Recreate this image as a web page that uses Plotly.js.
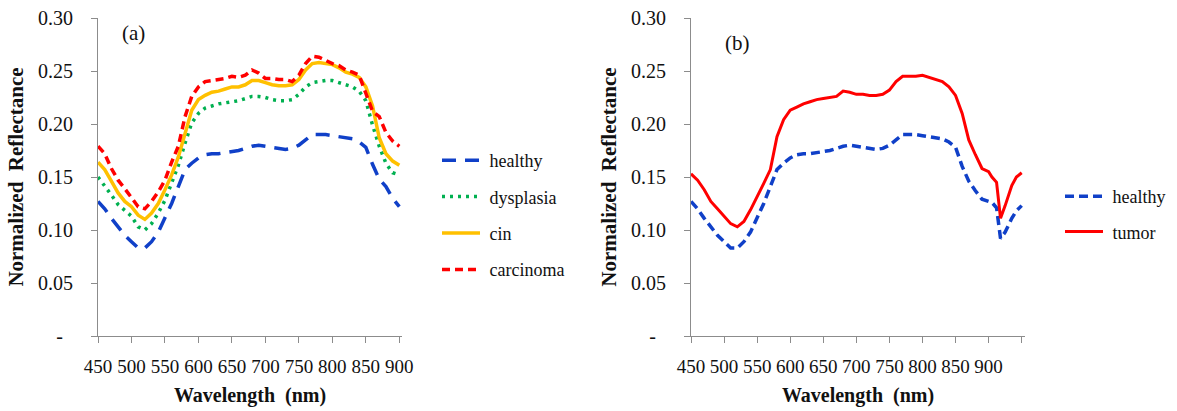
<!DOCTYPE html>
<html>
<head>
<meta charset="utf-8">
<script src="https://cdn.plot.ly/plotly-3.0.1.min.js"></script>
<style>
html,body{margin:0;padding:0;background:#fff;}
#chart{width:1177px;height:411px;}
</style>
</head>
<body>
<div id="chart"></div>
<script>
// ---- Data ----
var wlA = [450,460,470,480,490,500,510,520,530,540,550,560,570,580,590,600,610,620,630,640,650,660,670,680,690,700,710,720,730,740,750,760,770,780,790,800,810,820,830,840,850,860,870,880,890,900];
var healthyA = [0.127,0.120,0.111,0.103,0.095,0.089,0.083,0.083,0.089,0.098,0.111,0.125,0.141,0.157,0.163,0.168,0.171,0.172,0.172,0.173,0.174,0.175,0.177,0.179,0.180,0.179,0.178,0.177,0.176,0.177,0.180,0.185,0.190,0.190,0.190,0.189,0.188,0.187,0.186,0.183,0.178,0.162,0.148,0.141,0.130,0.122];
var dysplasiaA = [0.150,0.142,0.133,0.124,0.119,0.113,0.103,0.100,0.106,0.116,0.128,0.144,0.161,0.182,0.201,0.210,0.215,0.217,0.219,0.220,0.221,0.222,0.224,0.226,0.226,0.225,0.223,0.222,0.222,0.223,0.228,0.235,0.239,0.240,0.241,0.241,0.239,0.237,0.235,0.231,0.222,0.199,0.179,0.163,0.154,0.152];
var cinA = [0.164,0.157,0.146,0.135,0.127,0.122,0.114,0.110,0.116,0.125,0.138,0.152,0.169,0.191,0.213,0.223,0.227,0.230,0.231,0.233,0.235,0.235,0.237,0.241,0.241,0.239,0.237,0.236,0.236,0.237,0.242,0.251,0.257,0.258,0.257,0.256,0.253,0.249,0.247,0.244,0.235,0.217,0.187,0.172,0.165,0.161];
var carcinomaA = [0.179,0.172,0.158,0.147,0.139,0.131,0.122,0.120,0.127,0.136,0.147,0.164,0.179,0.207,0.226,0.235,0.240,0.241,0.242,0.243,0.245,0.244,0.246,0.251,0.248,0.243,0.243,0.242,0.242,0.240,0.246,0.257,0.264,0.263,0.260,0.257,0.255,0.251,0.249,0.246,0.229,0.212,0.207,0.192,0.184,0.179];

var wlB = [450,460,470,480,490,500,510,520,530,540,550,560,570,580,590,600,610,620,630,640,650,660,670,680,690,700,710,720,730,740,750,760,770,780,790,800,810,820,830,840,850,860,870,880,890,900,905,912,915,918,925,935,942,950];
var healthyB = [0.127,0.120,0.111,0.103,0.095,0.089,0.083,0.083,0.089,0.098,0.111,0.125,0.141,0.157,0.163,0.168,0.171,0.172,0.172,0.173,0.174,0.175,0.177,0.179,0.180,0.179,0.178,0.177,0.176,0.177,0.180,0.185,0.190,0.190,0.190,0.189,0.188,0.187,0.186,0.183,0.178,0.160,0.146,0.137,0.129,0.127,0.126,0.121,0.106,0.092,0.098,0.111,0.118,0.123];
var tumorB = [0.153,0.147,0.138,0.127,0.120,0.113,0.106,0.103,0.108,0.119,0.131,0.144,0.157,0.188,0.204,0.213,0.216,0.219,0.221,0.223,0.224,0.225,0.226,0.231,0.230,0.228,0.228,0.227,0.227,0.228,0.232,0.240,0.245,0.245,0.245,0.246,0.244,0.242,0.240,0.235,0.227,0.210,0.185,0.171,0.158,0.155,0.150,0.145,0.128,0.111,0.123,0.142,0.150,0.154];

var yTickVals = [0,0.05,0.10,0.15,0.20,0.25,0.30];
var yTickText = ['-\u00a0\u00a0','0.05','0.10','0.15','0.20','0.25','0.30'];
var xTickValsA = [450,500,550,600,650,700,750,800,850,900];
var xTickTextA = ['450','500','550','600','650','700','750','800','850','900'];
var xTickValsB = [450,500,550,600,650,700,750,800,850,900,950];
var xTickTextB = ['450','500','550','600','650','700','750','800','850','900',''];

// ---- Styles ----
var FONT = 'Liberation Serif, Times New Roman, Times, serif';
var BLUE = '#1040c8', GREEN = '#00b050', GOLD = '#ffc000', RED = '#ff0000';

var traces = [
  {x: wlA, y: healthyA, name: '\u00a0healthy', xaxis: 'x', yaxis: 'y', legend: 'legend', legendgroup: 'a1',
   mode: 'lines', line: {color: BLUE, width: 3.5, dash: '14px,9px'}},
  {x: wlA, y: dysplasiaA, name: '\u00a0dysplasia', xaxis: 'x', yaxis: 'y', legend: 'legend', legendgroup: 'a2',
   mode: 'lines', line: {color: GREEN, width: 3.5, dash: '3px,5px'}},
  {x: wlA, y: cinA, name: '\u00a0cin', xaxis: 'x', yaxis: 'y', legend: 'legend', legendgroup: 'a3',
   mode: 'lines', line: {color: GOLD, width: 3.5}},
  {x: wlA, y: carcinomaA, name: '\u00a0carcinoma', xaxis: 'x', yaxis: 'y', legend: 'legend', legendgroup: 'a4',
   mode: 'lines', line: {color: RED, width: 3.5, dash: '8px,5px'}},
  {x: wlB, y: healthyB, name: '\u00a0healthy', xaxis: 'x2', yaxis: 'y2', legend: 'legend2', legendgroup: 'b1',
   mode: 'lines', line: {color: BLUE, width: 3.5, dash: '9px,5px'}},
  {x: wlB, y: tumorB, name: '\u00a0tumor', xaxis: 'x2', yaxis: 'y2', legend: 'legend2', legendgroup: 'b2',
   mode: 'lines', line: {color: RED, width: 3}}
];

function yax(anchor) {
  return {
    anchor: anchor, domain: [1 - 336/411, 1 - 18/411], range: [0, 0.30],
    tickmode: 'array', tickvals: yTickVals, ticktext: yTickText,
    ticks: 'outside', ticklen: 6, tickcolor: '#8c8c8c', tickwidth: 1,
    showline: true, linecolor: '#8c8c8c', linewidth: 1, showgrid: false, zeroline: false,
    ticklabelstandoff: 14,
    tickfont: {family: FONT, size: 20, color: '#111'},
    title: {text: '<b>Normalized\u00a0\u00a0Reflectance</b>', font: {family: FONT, size: 21, color: '#111'}, standoff: 8}
  };
}
function xax(anchor, dom, rng, tv, tt) {
  return {
    anchor: anchor, domain: dom, range: rng,
    tickmode: 'array', tickvals: tv, ticktext: tt,
    ticks: 'outside', ticklen: 6, tickcolor: '#8c8c8c', tickwidth: 1,
    showline: true, linecolor: '#8c8c8c', linewidth: 1, showgrid: false, zeroline: false,
    ticklabelstandoff: 7,
    tickfont: {family: FONT, size: 19, color: '#111'},
    title: {text: '<b>Wavelength\u00a0\u00a0(nm)</b>', font: {family: FONT, size: 20, color: '#111'}, standoff: 12}
  };
}

var layout = {
  width: 1177, height: 411,
  margin: {l: 0, r: 0, t: 0, b: 0},
  paper_bgcolor: '#fff', plot_bgcolor: '#fff',
  font: {family: FONT, color: '#111'},
  xaxis: xax('y', [98/1177, 402/1177], [450, 904], xTickValsA, xTickTextA),
  yaxis: yax('x'),
  xaxis2: xax('y2', [691/1177, 1025/1177], [450, 955], xTickValsB, xTickTextB),
  yaxis2: yax('x2'),
  legend: {x: 437/1177, y: 1 - 142/411, xanchor: 'left', yanchor: 'top',
           bgcolor: 'rgba(0,0,0,0)', font: {family: FONT, size: 18, color: '#111'},
           traceorder: 'grouped', tracegroupgap: 10, itemwidth: 38},
  legend2: {x: 1060/1177, y: 1 - 178/411, xanchor: 'left', yanchor: 'top',
           bgcolor: 'rgba(0,0,0,0)', font: {family: FONT, size: 18, color: '#111'},
           traceorder: 'grouped', tracegroupgap: 9, itemwidth: 38},
  showlegend: true,
  annotations: [
    {text: '(a)', xref: 'paper', yref: 'paper', x: 133/1177, y: 1 - 33/411, xanchor: 'center', yanchor: 'middle',
     showarrow: false, font: {family: FONT, size: 21, color: '#111'}},
    {text: '(b)', xref: 'paper', yref: 'paper', x: 737/1177, y: 1 - 43/411, xanchor: 'center', yanchor: 'middle',
     showarrow: false, font: {family: FONT, size: 21, color: '#111'}}
  ]
};

Plotly.newPlot('chart', traces, layout, {staticPlot: true, displayModeBar: false});
</script>
</body>
</html>
